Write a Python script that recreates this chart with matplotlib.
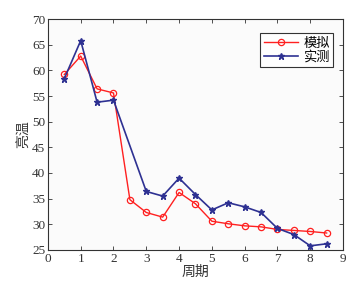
import matplotlib
matplotlib.use('Agg')
import matplotlib.pyplot as plt

# 数据
x_sim = [0.5, 1, 1.5, 2, 2.5, 3, 3.5, 4, 4.5, 5, 5.5, 6, 6.5, 7, 7.5, 8, 8.5]
y_sim = [59.2, 62.8, 56.4, 55.6, 34.8, 32.3, 31.4, 36.2, 34.0, 30.6, 30.1, 29.7,
         29.5, 29.0, 28.8, 28.6, 28.3]
x_obs = [0.5, 1, 1.5, 2, 3, 3.5, 4, 4.5, 5, 5.5, 6, 6.5, 7, 7.5, 8, 8.5]
y_obs = [58.4, 65.8, 53.8, 54.2, 36.4, 35.5, 39.0, 35.8, 32.8, 34.2, 33.4, 32.3,
         29.2, 28.0, 25.8, 26.2]
xticks = list(range(0, 10))
yticks = list(range(25, 75, 5))

cjk = ['Noto Sans CJK SC', 'DejaVu Sans']
plt.rcParams['font.family'] = ['Liberation Serif', 'Noto Sans CJK SC']

fig = plt.figure(figsize=(3.63, 2.85), dpi=100)
fig.patch.set_facecolor('white')
ax = fig.add_axes([0.132, 0.123, 0.813, 0.81])
ax.set_facecolor('#fbfbfb')

ax.plot(x_sim, y_sim, color='#ff2020', lw=1.0, marker='o', ms=4.5,
        mfc='none', mec='#ff2020', mew=0.9, label='模拟')
ax.plot(x_obs, y_obs, color='#2e3192', lw=1.2, marker='*', ms=4.5,
        mfc='#2e3192', mec='#2e3192', label='实测')

ax.set_xlim(0, 9)
ax.set_ylim(25, 70)
ax.set_xticks(xticks)
ax.set_yticks(yticks)
ax.tick_params(direction='in', top=True, right=True, length=3, width=0.6,
               labelsize=9.5, pad=2, colors='#333333')
for s in ax.spines.values():
    s.set_linewidth(0.8)
    s.set_color('#333333')

ax.set_xlabel('周期', family=cjk, fontsize=10, color='#333333', labelpad=0)
ax.set_ylabel('亮温', family=cjk, fontsize=10, color='#333333', labelpad=1)

leg = ax.legend(loc='upper right', bbox_to_anchor=(0.975, 0.95),
                prop={'family': cjk, 'size': 9.5}, frameon=True, fancybox=False,
                handlelength=2.6, borderpad=0.25, labelspacing=0.1,
                handletextpad=0.4, borderaxespad=0.2)
leg.get_frame().set_edgecolor('black')
leg.get_frame().set_linewidth(0.8)
leg.get_frame().set_facecolor('white')

fig.savefig('out.png', dpi=100)
